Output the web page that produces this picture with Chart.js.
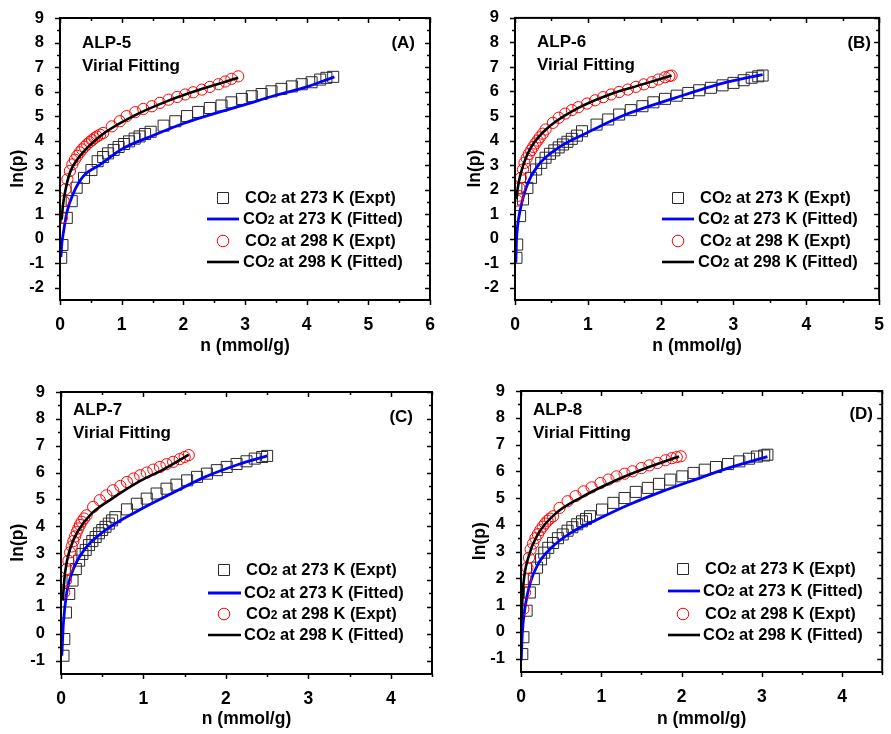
<!DOCTYPE html>
<html>
<head>
<meta charset="utf-8">
<script src="https://cdn.jsdelivr.net/npm/chart.js@4.4.1/dist/chart.umd.min.js"></script>
<style>
html, body { margin: 0; padding: 0; background: #fff; }
#wrap { position: relative; width: 891px; height: 734px; }
canvas { position: absolute; }
</style>
</head>
<body>
<div id="wrap">
  <canvas id="pA" width="445" height="367" style="left:0;top:0"></canvas>
  <canvas id="pB" width="446" height="367" style="left:445px;top:0"></canvas>
  <canvas id="pC" width="445" height="367" style="left:0;top:367px"></canvas>
  <canvas id="pD" width="446" height="367" style="left:445px;top:367px"></canvas>
</div>
<script>
// ---- ALP-5 ----
const a273n = [0.02,0.04,0.11,0.19,0.27,0.39,0.51,0.61,0.70,0.78,0.87,0.95,1.04,1.12,1.21,1.29,1.38,1.47,1.68,1.87,2.06,2.24,2.43,2.62,2.78,2.95,3.11,3.27,3.43,3.59,3.76,3.92,4.08,4.22,4.32,4.43];
const a273lnp = [-0.78,-0.26,0.85,1.53,2.08,2.48,2.80,3.16,3.33,3.48,3.62,3.74,3.86,3.97,4.08,4.17,4.27,4.36,4.61,4.79,5.00,5.17,5.33,5.43,5.56,5.70,5.81,5.90,6.01,6.11,6.21,6.30,6.38,6.49,6.56,6.60];
const a273fitN = [0.015,0.03,0.055,0.11,0.22,0.38,0.65,1.0,1.5,2.0,2.5,3.0,3.5,4.0,4.45];
const a273fitLnp = [-0.75,-0.2,0.24,1.06,1.87,2.55,3.02,3.65,4.2,4.7,5.1,5.47,5.85,6.19,6.6];
const a298n = [0.03,0.06,0.09,0.12,0.16,0.20,0.24,0.28,0.32,0.36,0.40,0.44,0.48,0.52,0.56,0.60,0.65,0.70,0.84,0.97,1.08,1.22,1.35,1.49,1.62,1.76,1.90,2.03,2.16,2.30,2.43,2.57,2.68,2.78,2.89];
const a298lnp = [0.85,1.53,2.02,2.42,2.76,3.03,3.22,3.38,3.52,3.64,3.75,3.85,3.94,4.02,4.10,4.17,4.24,4.31,4.58,4.79,5.00,5.16,5.29,5.40,5.54,5.67,5.78,5.88,5.97,6.08,6.19,6.30,6.41,6.52,6.62];
const a298fitN = [0.027,0.05,0.08,0.16,0.32,0.65,1.19,1.73,2.27,2.89];
const a298fitLnp = [0.78,1.4,1.87,2.69,3.36,4.18,5.0,5.6,6.08,6.56];

// ---- ALP-6 ----
const b273n = [0.02,0.03,0.07,0.11,0.17,0.22,0.29,0.36,0.42,0.48,0.54,0.60,0.66,0.72,0.78,0.85,0.92,1.12,1.28,1.43,1.59,1.75,1.90,2.06,2.22,2.38,2.53,2.69,2.85,3.00,3.14,3.25,3.34,3.40];
const b273lnp = [-0.78,-0.24,0.92,1.60,2.07,2.48,2.82,3.09,3.30,3.46,3.60,3.72,3.84,3.95,4.07,4.20,4.38,4.65,4.86,5.06,5.24,5.40,5.56,5.70,5.83,5.94,6.05,6.15,6.25,6.35,6.46,6.56,6.62,6.65];
const b273fitN = [0.012,0.02,0.035,0.07,0.16,0.31,0.63,0.99,1.52,2.2,2.87,3.4];
const b273fitLnp = [-0.98,-0.1,0.5,1.15,2.14,2.96,3.77,4.32,5.06,5.74,6.35,6.69];
const b298n = [0.03,0.045,0.06,0.08,0.11,0.13,0.16,0.19,0.22,0.25,0.28,0.31,0.34,0.38,0.42,0.52,0.60,0.69,0.78,0.87,0.99,1.10,1.21,1.32,1.43,1.55,1.66,1.77,1.88,1.97,2.06,2.12,2.15];
const b298lnp = [1.55,1.75,2.07,2.48,2.82,3.09,3.28,3.45,3.60,3.74,3.88,4.00,4.13,4.28,4.45,4.72,4.93,5.10,5.24,5.36,5.51,5.64,5.77,5.88,5.98,6.08,6.19,6.29,6.38,6.49,6.58,6.63,6.65];
const b298fitN = [0.02,0.04,0.07,0.18,0.4,0.85,1.3,1.75,2.15];
const b298fitLnp = [1.6,2.1,2.55,3.5,4.38,5.3,5.88,6.29,6.65];

// ---- ALP-7 ----
const c273n = [0.03,0.04,0.06,0.10,0.14,0.18,0.22,0.26,0.30,0.34,0.38,0.42,0.46,0.50,0.54,0.58,0.62,0.66,0.80,0.92,1.04,1.16,1.28,1.40,1.53,1.65,1.77,1.89,2.01,2.13,2.25,2.35,2.44,2.50];
const c273lnp = [-0.82,-0.20,0.79,1.48,1.98,2.41,2.72,2.97,3.12,3.30,3.45,3.60,3.74,3.86,3.98,4.10,4.22,4.34,4.63,4.84,5.03,5.22,5.40,5.55,5.71,5.84,5.96,6.09,6.21,6.32,6.42,6.52,6.58,6.62];
const c273fitN = [0.01,0.03,0.07,0.15,0.29,0.53,0.94,1.34,1.75,2.15,2.5];
const c273fitLnp = [-0.82,0.42,1.54,2.41,3.16,3.84,4.59,5.22,5.84,6.3,6.62];
const c298n = [0.04,0.06,0.07,0.09,0.11,0.13,0.15,0.17,0.19,0.21,0.23,0.25,0.28,0.31,0.39,0.47,0.55,0.63,0.72,0.80,0.88,0.96,1.04,1.12,1.20,1.28,1.36,1.44,1.50,1.55];
const c298lnp = [1.54,1.98,2.41,2.72,3.03,3.25,3.45,3.62,3.78,3.92,4.05,4.17,4.29,4.41,4.72,4.97,5.15,5.34,5.50,5.65,5.78,5.90,6.00,6.11,6.21,6.31,6.40,6.50,6.58,6.65];
const c298fitN = [0.02,0.05,0.11,0.21,0.37,0.62,0.94,1.26,1.55];
const c298fitLnp = [1.23,2.29,3.16,3.84,4.47,5.03,5.65,6.15,6.67];

// ---- ALP-8 ----
const d273n = [0.016,0.03,0.07,0.11,0.16,0.20,0.25,0.29,0.34,0.40,0.46,0.52,0.58,0.64,0.70,0.76,0.81,0.86,1.01,1.15,1.29,1.43,1.58,1.72,1.86,2.01,2.15,2.29,2.43,2.58,2.72,2.84,2.94,3.03,3.07];
const d273lnp = [-0.83,-0.20,0.79,1.47,1.97,2.40,2.71,2.96,3.14,3.32,3.50,3.64,3.78,3.91,4.02,4.13,4.22,4.32,4.57,4.82,5.00,5.23,5.38,5.53,5.69,5.81,5.94,6.06,6.16,6.27,6.37,6.47,6.55,6.59,6.62];
const d273fitN = [0.003,0.016,0.05,0.11,0.21,0.38,0.62,0.95,1.35,1.76,2.17,2.58,3.07];
const d273fitLnp = [-1.07,-0.08,0.91,1.78,2.52,3.15,3.7,4.2,4.76,5.25,5.69,6.12,6.55];
const d298n = [0.03,0.05,0.06,0.08,0.10,0.12,0.15,0.18,0.21,0.24,0.27,0.30,0.33,0.36,0.40,0.48,0.58,0.68,0.78,0.88,0.99,1.09,1.19,1.29,1.39,1.50,1.60,1.70,1.80,1.88,1.94,1.99];
const d298lnp = [0.85,1.47,1.97,2.40,2.77,3.08,3.30,3.50,3.65,3.80,3.93,4.05,4.15,4.23,4.32,4.63,4.88,5.07,5.25,5.40,5.56,5.69,5.81,5.91,6.00,6.12,6.22,6.31,6.41,6.49,6.53,6.56];
const d298fitN = [0.003,0.03,0.09,0.21,0.42,0.74,1.15,1.56,1.97];
const d298fitLnp = [0.41,1.78,2.77,3.64,4.39,5.01,5.62,6.12,6.55];

// tick labels
const xTicks6 = [0, 1, 2, 3, 4, 5, 6];
const xTicks5 = [0, 1, 2, 3, 4, 5];
const xTicks4 = [0, 1, 2, 3, 4];
const yTicksAB = [-2, -1, 0, 1, 2, 3, 4, 5, 6, 7, 8, 9];
const yTicksCD = [-1, 0, 1, 2, 3, 4, 5, 6, 7, 8, 9];

const legendLabels = [
    ["CO", "2", " at 273 K (Expt)"],
    ["CO", "2", " at 273 K (Fitted)"],
    ["CO", "2", " at 298 K (Expt)"],
    ["CO", "2", " at 298 K (Fitted)"]
];

const FONT = '"Liberation Sans", Arial, sans-serif';

function pts(n, v) {
    return n.map((x, i) => ({ x: x, y: v[i] }));
}

// frame, minor ticks, panel labels and in-plot legend
const framePlugin = {
    id: 'frame',
    afterDraw(chart, args, o) {
        const c = chart.ctx;
        const a = chart.chartArea;
        const xs = chart.scales.x, ys = chart.scales.y;
        c.save();
        c.strokeStyle = '#000';
        c.lineWidth = 2;
        c.strokeRect(a.left, a.top, a.right - a.left, a.bottom - a.top);

        // ticks: outward on left/bottom, inward on top/right
        c.lineWidth = 1.5;
        c.beginPath();
        for (let v = 0; v <= o.xMax + 1e-6; v += 0.5) {
            const px = Math.round(xs.getPixelForValue(v)) + 0.5;
            const len = Number.isInteger(v) ? 5 : 3;
            c.moveTo(px, a.bottom); c.lineTo(px, a.bottom + len);
            c.moveTo(px, a.top); c.lineTo(px, a.top + len);
        }
        for (let v = Math.ceil(o.yMin); v <= o.yMax + 1e-6; v += 0.5) {
            const py = Math.round(ys.getPixelForValue(v)) + 0.5;
            const len = Number.isInteger(v) ? 5 : 3;
            c.moveTo(a.left, py); c.lineTo(a.left - len, py);
            c.moveTo(a.right, py); c.lineTo(a.right - len, py);
        }
        c.stroke();

        // panel labels
        c.fillStyle = '#000';
        c.font = 'bold 17px ' + FONT;
        c.textBaseline = 'middle';
        c.textAlign = 'left';
        c.fillText(o.name, o.nameX, o.nameY);
        c.fillText('Virial Fitting', o.nameX, o.nameY + 23);
        c.textAlign = 'right';
        c.fillText(o.tag, o.tagX, o.tagY);

        // legend
        const ds = chart.data.datasets;
        c.textAlign = 'left';
        legendLabels.forEach((lab, i) => {
            const y = o.legRows[i];
            const d = ds[i];
            if (d.showLine === false) {
                c.lineWidth = 1;
                c.strokeStyle = d.borderColor;
                c.beginPath();
                if (d.pointStyle === 'rect') {
                    c.rect(o.legSym - 5.5, y - 5.5, 11, 11);
                } else {
                    c.arc(o.legSym, y, 5.8, 0, Math.PI * 2);
                }
                c.stroke();
            } else {
                c.lineWidth = d.borderWidth;
                c.strokeStyle = d.borderColor;
                c.beginPath();
                c.moveTo(o.legLine[0], y);
                c.lineTo(o.legLine[1], y);
                c.stroke();
            }
            let tx = o.legText + (d.showLine === false ? 2 : 0);
            c.fillStyle = '#000';
            c.font = 'bold 16.5px ' + FONT;
            c.fillText(lab[0], tx, y);
            tx += c.measureText(lab[0]).width;
            c.font = 'bold 12px ' + FONT;
            c.fillText(lab[1], tx, y + 2);
            tx += c.measureText(lab[1]).width;
            c.font = 'bold 16.5px ' + FONT;
            c.fillText(lab[2], tx, y);
        });
        c.restore();
    }
};
Chart.register(framePlugin);

function makeChart(id, p) {
    const el = document.getElementById(id);
    const W = el.width, H = el.height;
    return new Chart(el, {
        type: 'line',
        data: {
            datasets: [
                { data: pts(p.n273, p.lnp273), showLine: false, pointStyle: 'rect', pointRadius: 7.8,
                  borderColor: '#2a2a2a', borderWidth: 1, backgroundColor: 'transparent', order: 4 },
                { data: pts(p.fit273n, p.fit273lnp), borderColor: '#0000ff', borderWidth: 2.8, pointRadius: 0,
                  cubicInterpolationMode: 'monotone', fill: false, order: 3 },
                { data: pts(p.n298, p.lnp298), showLine: false, pointStyle: 'circle', pointRadius: 5.6,
                  borderColor: '#ff0000', borderWidth: 1, backgroundColor: 'transparent', order: 2 },
                { data: pts(p.fit298n, p.fit298lnp), borderColor: '#000000', borderWidth: 2.6, pointRadius: 0,
                  cubicInterpolationMode: 'monotone', fill: false, order: 1 }
            ]
        },
        options: {
            responsive: false,
            animation: false,
            events: [],
            layout: { padding: { top: p.area.top, right: W - p.area.right, left: 0, bottom: 0 } },
            plugins: {
                legend: { display: false },
                tooltip: { enabled: false },
                frame: p
            },
            scales: {
                x: {
                    type: 'linear', min: 0, max: p.xMax,
                    afterBuildTicks: s => { s.ticks = p.xTicks.map(v => ({ value: v })); },
                    afterFit: s => { s.height = H - p.area.bottom; },
                    grid: { display: false }, border: { display: false },
                    ticks: { color: '#000', padding: 7, font: { family: FONT, size: 17.5, weight: 'bold' } },
                    title: { display: true, text: 'n (mmol/g)', color: '#000',
                             padding: { top: 0, bottom: p.xTitlePad },
                             font: { family: FONT, size: 17.5, weight: 'bold' } }
                },
                y: {
                    type: 'linear', min: p.yMin, max: p.yMax,
                    afterBuildTicks: s => { s.ticks = p.yTicks.map(v => ({ value: v })); },
                    afterFit: s => { s.width = p.area.left; },
                    grid: { display: false }, border: { display: false },
                    ticks: { color: '#000', padding: 8, font: { family: FONT, size: 16.5, weight: 'bold' } },
                    title: { display: true, text: 'ln(p)    ', color: '#000',
                             padding: { top: p.yTitlePad, bottom: 0 },
                             font: { family: FONT, size: 17.5, weight: 'bold' } }
                }
            }
        }
    });
}

makeChart('pA', {
    n273: a273n, lnp273: a273lnp, fit273n: a273fitN, fit273lnp: a273fitLnp,
    n298: a298n, lnp298: a298lnp, fit298n: a298fitN, fit298lnp: a298fitLnp,
    area: { left: 60, right: 430, top: 18, bottom: 300 },
    xMax: 6, yMin: -2.5, yMax: 9, xTicks: xTicks6, yTicks: yTicksAB,
    xTitlePad: 10, yTitlePad: 8,
    name: 'ALP-5', nameX: 82, nameY: 43, tag: '(A)', tagX: 415, tagY: 43,
    legRows: [198, 219, 241, 262], legSym: 223, legLine: [207, 239], legText: 243
});

makeChart('pB', {
    n273: b273n, lnp273: b273lnp, fit273n: b273fitN, fit273lnp: b273fitLnp,
    n298: b298n, lnp298: b298lnp, fit298n: b298fitN, fit298lnp: b298fitLnp,
    area: { left: 70, right: 442, top: 17, bottom: 300 },
    xMax: 5, yMin: -2.5, yMax: 9, xTicks: xTicks5, yTicks: yTicksAB,
    xTitlePad: 10, yTitlePad: 20,
    name: 'ALP-6', nameX: 92, nameY: 42, tag: '(B)', tagX: 426, tagY: 43,
    legRows: [198, 219, 241, 262], legSym: 233, legLine: [217, 249], legText: 253
});

makeChart('pC', {
    n273: c273n, lnp273: c273lnp, fit273n: c273fitN, fit273lnp: c273fitLnp,
    n298: c298n, lnp298: c298lnp, fit298n: c298fitN, fit298lnp: c298fitLnp,
    area: { left: 61, right: 432, top: 25, bottom: 307 },
    xMax: 4.5, yMin: -1.5, yMax: 9, xTicks: xTicks4, yTicks: yTicksCD,
    xTitlePad: 4, yTitlePad: 8,
    name: 'ALP-7', nameX: 73, nameY: 43, tag: '(C)', tagX: 413, tagY: 50,
    legRows: [203, 226, 247, 268], legSym: 224, legLine: [208, 241], legText: 244
});

makeChart('pD', {
    n273: d273n, lnp273: d273lnp, fit273n: d273fitN, fit273lnp: d273fitLnp,
    n298: d298n, lnp298: d298lnp, fit298n: d298fitN, fit298lnp: d298fitLnp,
    area: { left: 76, right: 445, top: 24, bottom: 305 },
    xMax: 4.5, yMin: -1.5, yMax: 9, xTicks: xTicks4, yTicks: yTicksCD,
    xTitlePad: 4, yTitlePad: 25,
    name: 'ALP-8', nameX: 88, nameY: 43, tag: '(D)', tagX: 428, tagY: 47,
    legRows: [202, 224, 247, 268], legSym: 238, legLine: [223, 255], legText: 258
});
</script>
</body>
</html>
